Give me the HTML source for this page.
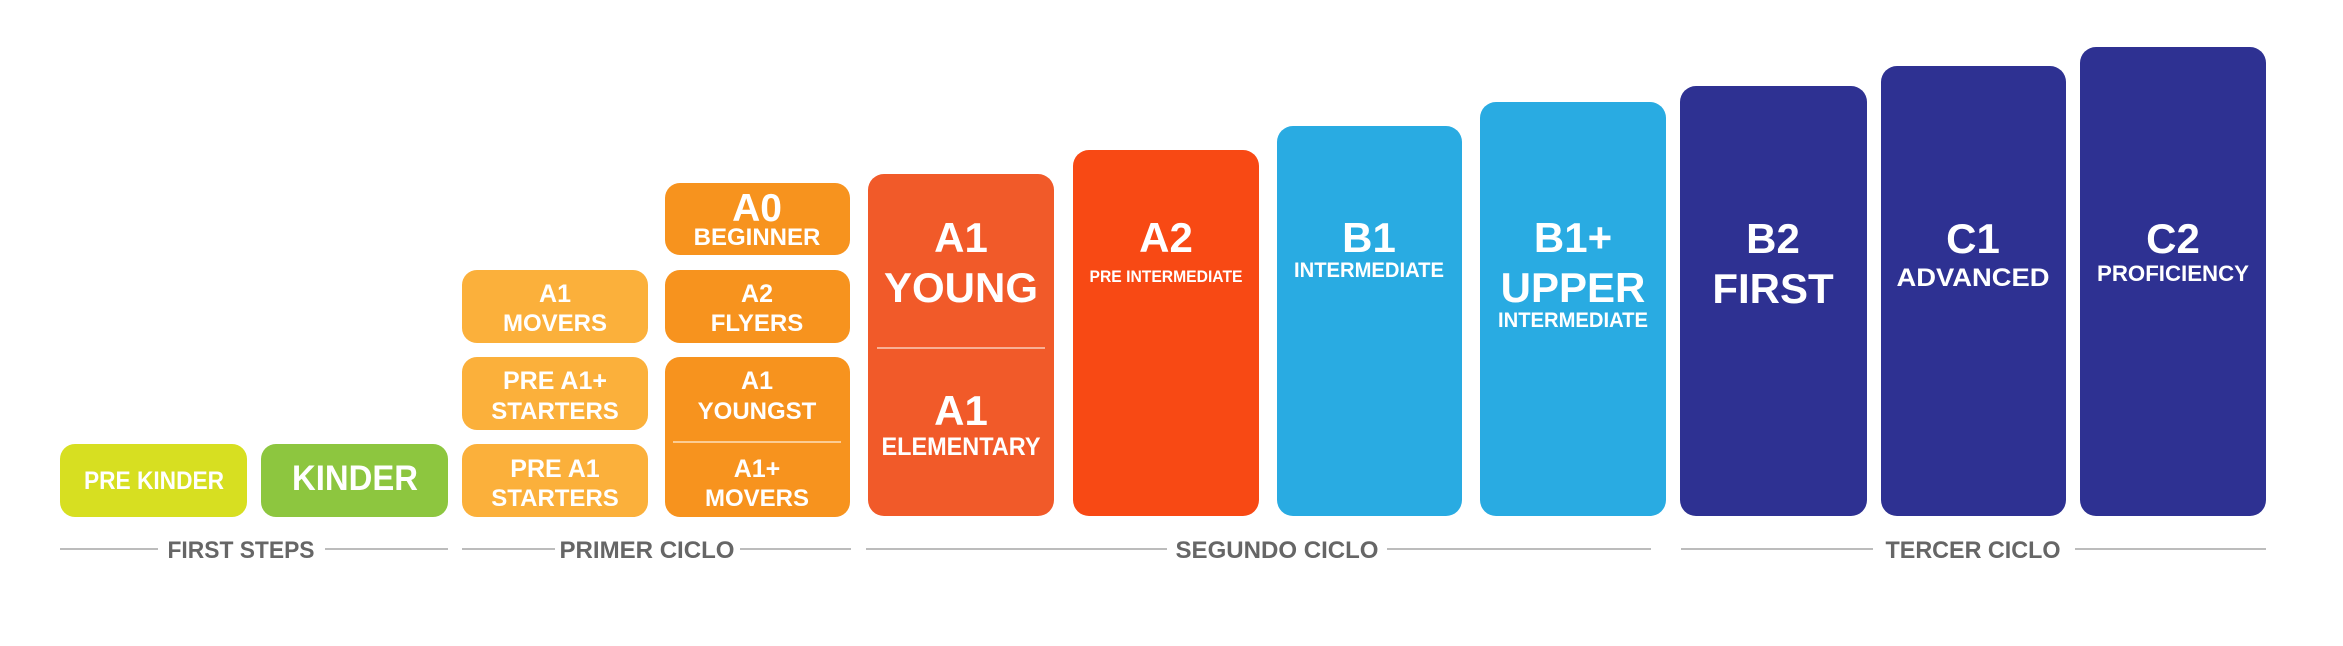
<!DOCTYPE html>
<html><head><meta charset="utf-8"><style>
html,body{margin:0;padding:0;background:#fff;}
svg{display:block;}
text{font-family:"Liberation Sans",Arial,sans-serif;font-weight:bold;fill:#fff;text-anchor:middle;}
.l{fill:#666;font-size:24px;}
</style></head><body>
<svg width="2343" height="646" viewBox="0 0 2343 646" xmlns="http://www.w3.org/2000/svg">
<!-- First steps -->
<rect x="60" y="444" width="187" height="73" rx="15" fill="#d7df21"/>
<rect x="261" y="444" width="187" height="73" rx="15" fill="#8dc63f"/>
<text x="154" y="489" font-size="25" textLength="140" lengthAdjust="spacingAndGlyphs">PRE KINDER</text>
<text x="355" y="490" font-size="35" textLength="126" lengthAdjust="spacingAndGlyphs">KINDER</text>
<!-- col3 -->
<rect x="462" y="270" width="186" height="73" rx="15" fill="#fbb03b"/>
<rect x="462" y="357" width="186" height="73" rx="15" fill="#fbb03b"/>
<rect x="462" y="444" width="186" height="73" rx="15" fill="#fbb03b"/>
<text x="555" y="302" font-size="25">A1</text>
<text x="555" y="331" font-size="24">MOVERS</text>
<text x="555" y="389" font-size="25">PRE A1+</text>
<text x="555" y="419" font-size="24">STARTERS</text>
<text x="555" y="477" font-size="25">PRE A1</text>
<text x="555" y="506" font-size="24">STARTERS</text>
<!-- col4 -->
<rect x="665" y="183" width="185" height="72" rx="15" fill="#f7931e"/>
<rect x="665" y="270" width="185" height="73" rx="15" fill="#f7931e"/>
<rect x="665" y="357" width="185" height="160" rx="15" fill="#f7931e"/>
<line x1="673" y1="442" x2="841" y2="442" stroke="#fde0b8" stroke-width="1.5"/>
<text x="757" y="221" font-size="39">A0</text>
<text x="757" y="245" font-size="24">BEGINNER</text>
<text x="757" y="302" font-size="25">A2</text>
<text x="757" y="331" font-size="24">FLYERS</text>
<text x="757" y="389" font-size="25">A1</text>
<text x="757" y="419" font-size="24">YOUNGST</text>
<text x="757" y="477" font-size="25">A1+</text>
<text x="757" y="506" font-size="24">MOVERS</text>
<!-- segundo -->
<rect x="868" y="174" width="186" height="342" rx="16" fill="#f15a29"/>
<line x1="877" y1="348" x2="1045" y2="348" stroke="#fbcdb8" stroke-width="1.5"/>
<text x="961" y="252" font-size="42">A1</text>
<text x="961" y="302" font-size="42">YOUNG</text>
<text x="961" y="425" font-size="42">A1</text>
<text x="961" y="455" font-size="25" textLength="159" lengthAdjust="spacingAndGlyphs">ELEMENTARY</text>
<rect x="1073" y="150" width="186" height="366" rx="16" fill="#f84914"/>
<text x="1166" y="252" font-size="42">A2</text>
<text x="1166" y="282" font-size="17" textLength="153" lengthAdjust="spacingAndGlyphs">PRE INTERMEDIATE</text>
<rect x="1277" y="126" width="185" height="390" rx="16" fill="#29abe2"/>
<text x="1369" y="252" font-size="42">B1</text>
<text x="1369" y="277" font-size="21" textLength="150" lengthAdjust="spacingAndGlyphs">INTERMEDIATE</text>
<rect x="1480" y="102" width="186" height="414" rx="16" fill="#29abe2"/>
<text x="1573" y="252" font-size="42">B1+</text>
<text x="1573" y="302" font-size="42">UPPER</text>
<text x="1573" y="327" font-size="21" textLength="150" lengthAdjust="spacingAndGlyphs">INTERMEDIATE</text>
<!-- tercer -->
<rect x="1680" y="86" width="187" height="430" rx="16" fill="#2e3192"/>
<text x="1773" y="253" font-size="42">B2</text>
<text x="1773" y="303" font-size="42">FIRST</text>
<rect x="1881" y="66" width="185" height="450" rx="16" fill="#2e3192"/>
<text x="1973" y="253" font-size="42">C1</text>
<text x="1973" y="286" font-size="25" textLength="153" lengthAdjust="spacingAndGlyphs">ADVANCED</text>
<rect x="2080" y="47" width="186" height="469" rx="16" fill="#2e3192"/>
<text x="2173" y="253" font-size="42">C2</text>
<text x="2173" y="281" font-size="22" textLength="152" lengthAdjust="spacingAndGlyphs">PROFICIENCY</text>
<!-- labels -->
<g stroke="#a6a6a6" stroke-width="1.5">
<line x1="60" y1="549" x2="158" y2="549"/><line x1="325" y1="549" x2="448" y2="549"/>
<line x1="462" y1="549" x2="555" y2="549"/><line x1="740" y1="549" x2="851" y2="549"/>
<line x1="866" y1="549" x2="1167" y2="549"/><line x1="1387" y1="549" x2="1651" y2="549"/>
<line x1="1681" y1="549" x2="1873" y2="549"/><line x1="2075" y1="549" x2="2266" y2="549"/>
</g>
<text class="l" x="241" y="558" textLength="147" lengthAdjust="spacingAndGlyphs">FIRST STEPS</text>
<text class="l" x="647" y="558" textLength="175" lengthAdjust="spacingAndGlyphs">PRIMER CICLO</text>
<text class="l" x="1277" y="558" textLength="203" lengthAdjust="spacingAndGlyphs">SEGUNDO CICLO</text>
<text class="l" x="1973" y="558" textLength="175" lengthAdjust="spacingAndGlyphs">TERCER CICLO</text>
</svg>
</body></html>
